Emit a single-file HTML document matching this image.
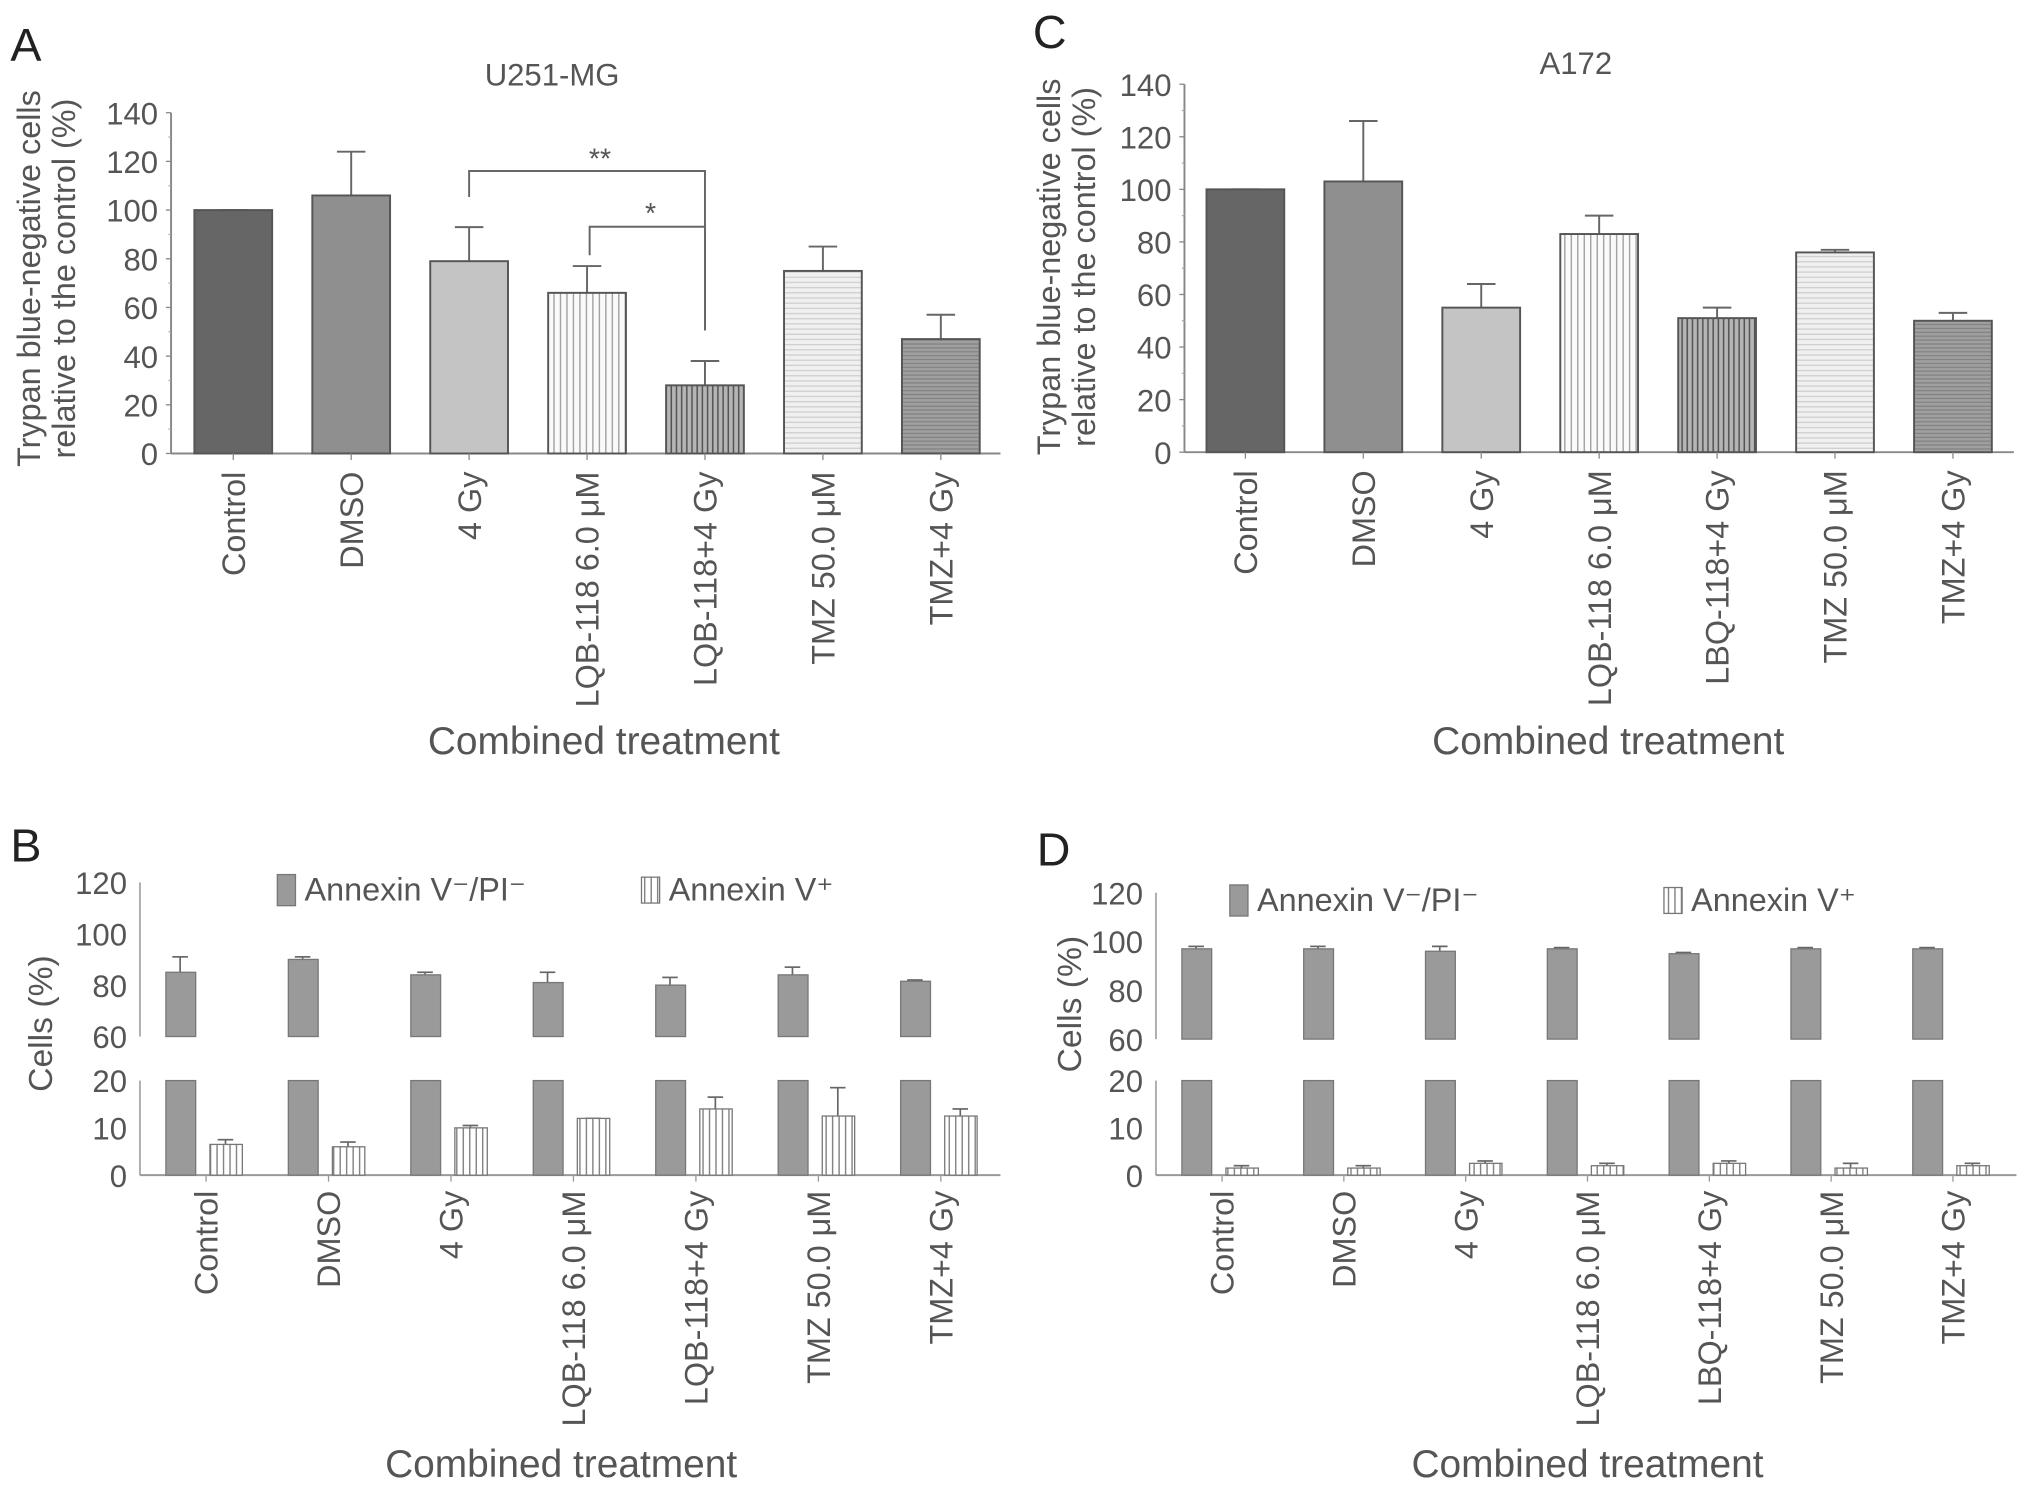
<!DOCTYPE html>
<html><head><meta charset="utf-8"><style>
html,body{margin:0;padding:0;background:#fff;}
svg{display:block;font-family:"Liberation Sans",sans-serif;}
</style></head><body>
<svg id="fig" width="2032" height="1490" viewBox="0 0 1568 1150" preserveAspectRatio="none">
<defs>
<pattern id="vLight" width="5" height="10" patternUnits="userSpaceOnUse"><rect width="5" height="10" fill="#fafafa"/><line x1="2.5" y1="0" x2="2.5" y2="10" stroke="#9a9a9a" stroke-width="1"/></pattern>
<pattern id="vDark" width="4" height="10" patternUnits="userSpaceOnUse"><rect width="4" height="10" fill="#b5b5b5"/><line x1="2" y1="0" x2="2" y2="10" stroke="#555" stroke-width="1.2"/></pattern>
<pattern id="hLight" width="10" height="4" patternUnits="userSpaceOnUse"><rect width="10" height="4" fill="#f0f0f0"/><line x1="0" y1="2" x2="10" y2="2" stroke="#cfcfcf" stroke-width="1"/></pattern>
<pattern id="hDark" width="10" height="3" patternUnits="userSpaceOnUse"><rect width="10" height="3" fill="#a0a0a0"/><line x1="0" y1="1.5" x2="10" y2="1.5" stroke="#828282" stroke-width="1"/></pattern>
<pattern id="vStripe" width="5" height="10" patternUnits="userSpaceOnUse"><rect width="5" height="10" fill="#fff"/><line x1="2.5" y1="0" x2="2.5" y2="10" stroke="#777" stroke-width="1"/></pattern>
</defs>
</svg>
<script>
const catsA = ["Control","DMSO","4 Gy","LQB-118 6.0 \u03bcM","LQB-118+4 Gy","TMZ 50.0 \u03bcM","TMZ+4 Gy"];
const catsC = ["Control","DMSO","4 Gy","LQB-118 6.0 \u03bcM","LBQ-118+4 Gy","TMZ 50.0 \u03bcM","TMZ+4 Gy"];
const valsA = [100,106,79,66,28,75,47];
const errA = [100,124,93,77,38,85,57];
const valsC = [100,103,55,83,51,76,50];
const errC = [100,126,64,90,55,77,53];
const ticksTop = [0,20,40,60,80,100,120,140];
const liveB = [85,90,84,81,80,84,81.5];
const liveBErr = [91,91,85,85,83,87,82];
const annB = [6.5,6,10,12,14,12.5,12.5];
const annBErr = [7.5,7,10.5,12,16.5,18.5,14];
const liveD = [97,97,96,97,95,97,97];
const liveDErr = [98,98,98,97.5,95.5,97.5,97.5];
const annD = [1.5,1.5,2.5,2,2.5,1.5,2];
const annDErr = [2,2,3,2.5,3,2.5,2.5];
const ticksUpper = [60,80,100,120];
const ticksLower = [0,10,20];
const fills = ["#666","#8f8f8f","#c4c4c4","url(#vLight)","url(#vDark)","url(#hLight)","url(#hDark)"];

const svg = document.getElementById('fig');
const NS = "http://www.w3.org/2000/svg";
function mk(tag, attrs, parent){const e=document.createElementNS(NS,tag);for(const k in attrs)e.setAttribute(k,attrs[k]);(parent||svg).appendChild(e);return e;}
function txt(s, attrs, parent){const e=mk('text',attrs,parent);e.textContent=s;return e;}

function panelTop(o){
  const g = mk('g',{});
  
  
  const y = v => o.y0 - v*(o.y0-o.y140)/140;
  const ya = mk('line',{x1:o.ax,y1:o.y140,x2:o.ax,y2:o.y0,stroke:'#888','stroke-width':1.5},g);
  
  
  const xa = mk('line',{x1:o.ax,y1:o.y0,x2:o.axEnd,y2:o.y0,stroke:'#888','stroke-width':1.5},g);
  
  
  ticksTop.forEach(t=>{
    const tl = txt(String(t),{x:o.ax-10,y:y(t)+9,'text-anchor':'end','font-size':24,fill:'#555'},g);
    
    
    mk('line',{x1:o.ax-4,y1:y(t),x2:o.ax,y2:y(t),stroke:'#888','stroke-width':1},g);
    if(t<140) mk('line',{x1:o.ax-2,y1:y(t+10),x2:o.ax,y2:y(t+10),stroke:'#aaa','stroke-width':1},g);
  });
  o.cats.forEach((c,i)=>{
    const cx = o.first + i*o.step;
    const ex = mk('line',{x1:cx,y1:y(o.vals[i]),x2:cx,y2:y(o.err[i]),stroke:'#666','stroke-width':1.5},g);
    
    
    mk('line',{x1:cx-11,y1:y(o.err[i]),x2:cx+11,y2:y(o.err[i]),stroke:'#666','stroke-width':1.5},g);
    const b = mk('rect',{x:cx-30,y:y(o.vals[i]),width:60,height:y(0)-y(o.vals[i]),fill:fills[i],stroke:'#555','stroke-width':1.5},g);
    
    
    mk('line',{x1:cx,y1:o.y0,x2:cx,y2:o.y0+5,stroke:'#888','stroke-width':1},g);
    const l = txt(c,{x:cx+9,y:o.y0+14,'text-anchor':'end','font-size':25,fill:'#555',transform:`rotate(-90 ${cx+9} ${o.y0+14})`},g);
    
    
  });
  return {g,y};
}

const A = panelTop({name:'panel-a-chart',ax:132,axEnd:772,y0:350,y140:87,first:180,step:91,cats:catsA,vals:valsA,err:errA});
const C = panelTop({name:'panel-c-chart',ax:914,axEnd:1554,y0:349,y140:65,first:961,step:91,cats:catsC,vals:valsC,err:errC});

const br = mk('g',{});


mk('polyline',{points:`362,152 362,132 544,132 544,255`,fill:'none',stroke:'#666','stroke-width':1.5},br);
mk('polyline',{points:`455,197 455,175 544,175 544,255`,fill:'none',stroke:'#666','stroke-width':1.5},br);
txt('**',{x:463,y:130,'text-anchor':'middle','font-size':22,fill:'#555'},br);
txt('*',{x:502,y:172,'text-anchor':'middle','font-size':22,fill:'#555'},br);

function panelBot(o){
  const g = mk('g',{});
  
  
  const yU = v => o.y60 - (v-60)*(o.y60-o.y120)/60;
  const yL = v => o.y0 - v*(o.y0-o.y20)/20;
  const a1 = mk('line',{x1:o.ax,y1:o.y120,x2:o.ax,y2:o.y60,stroke:'#999','stroke-width':1.2},g);
  
  
  const a2 = mk('line',{x1:o.ax,y1:o.y20,x2:o.ax,y2:o.y0,stroke:'#999','stroke-width':1.2},g);
  
  
  const xa = mk('line',{x1:o.ax,y1:o.y0,x2:o.axEnd,y2:o.y0,stroke:'#999','stroke-width':1.5},g);
  
  
  ticksUpper.forEach(t=>{
    const tl = txt(String(t),{x:o.ax-10,y:yU(t)+9,'text-anchor':'end','font-size':24,fill:'#555'},g);
    
    
  });
  ticksLower.forEach(t=>{
    const tl = txt(String(t),{x:o.ax-10,y:yL(t)+9,'text-anchor':'end','font-size':24,fill:'#555'},g);
    
    
  });
  o.cats.forEach((c,i)=>{
    const gx = o.gray0 + i*o.step;
    const sx = gx + 34;
    mk('line',{x1:gx+11,y1:yU(o.live[i]),x2:gx+11,y2:yU(o.liveErr[i]),stroke:'#666','stroke-width':1.3},g);
    mk('line',{x1:gx+5,y1:yU(o.liveErr[i]),x2:gx+17,y2:yU(o.liveErr[i]),stroke:'#666','stroke-width':1.3},g);
    const b1 = mk('rect',{x:gx,y:yU(o.live[i]),width:23,height:o.y60-yU(o.live[i]),fill:'#9a9a9a',stroke:'#777','stroke-width':1},g);
    
    
    const b2 = mk('rect',{x:gx,y:o.y20,width:23,height:o.y0-o.y20,fill:'#9a9a9a',stroke:'#777','stroke-width':1},g);
    
    
    mk('line',{x1:sx+12,y1:yL(o.ann[i]),x2:sx+12,y2:yL(o.annErr[i]),stroke:'#666','stroke-width':1.3},g);
    mk('line',{x1:sx+6,y1:yL(o.annErr[i]),x2:sx+18,y2:yL(o.annErr[i]),stroke:'#666','stroke-width':1.3},g);
    const b3 = mk('rect',{x:sx,y:yL(o.ann[i]),width:25,height:o.y0-yL(o.ann[i]),fill:'url(#vStripe)',stroke:'#777','stroke-width':1},g);
    
    
    const cx = gx + 31;
    mk('line',{x1:cx,y1:o.y0,x2:cx,y2:o.y0+5,stroke:'#999','stroke-width':1},g);
    const l = txt(c,{x:cx+9,y:o.y0+12,'text-anchor':'end','font-size':25,fill:'#555',transform:`rotate(-90 ${cx+9} ${o.y0+12})`},g);
    
    
  });
  const lg = mk('g',{},g);
  
  
  mk('rect',{x:o.leg1,y:o.legY,width:14,height:24,fill:'#9a9a9a',stroke:'#777'},lg);
  txt('Annexin V\u207b/PI\u207b',{x:o.leg1+21,y:o.legY+20,'font-size':25,fill:'#555'},lg);
  mk('rect',{x:o.leg2,y:o.legY+2,width:14,height:20,fill:'url(#vStripe)',stroke:'#777'},lg);
  txt('Annexin V\u207a',{x:o.leg2+21,y:o.legY+20,'font-size':25,fill:'#555'},lg);
}

panelBot({name:'panel-b-chart',ax:108,axEnd:772,y0:907,y20:834,y60:800,y120:681,gray0:128,step:94.5,cats:catsA,live:liveB,liveErr:liveBErr,ann:annB,annErr:annBErr,leg1:214,leg2:495,legY:675});
panelBot({name:'panel-d-chart',ax:892,axEnd:1556,y0:907,y20:834,y60:802,y120:689,gray0:912,step:94,cats:catsC,live:liveD,liveErr:liveDErr,ann:annD,annErr:annDErr,leg1:949,leg2:1284,legY:683});

function lab(s,attrs,name){const e=txt(s,attrs);return e;}
lab('A',{x:8,y:47,'font-size':36,fill:'#222'},'panel-label-a');
lab('C',{x:797,y:37,'font-size':36,fill:'#222'},'panel-label-c');
lab('B',{x:8,y:665,'font-size':36,fill:'#222'},'panel-label-b');
lab('D',{x:800,y:668,'font-size':36,fill:'#222'},'panel-label-d');
lab('U251-MG',{x:426,y:66,'text-anchor':'middle','font-size':24,fill:'#555'},'chart-title-a');
lab('A172',{x:1216,y:57,'text-anchor':'middle','font-size':24,fill:'#555'},'chart-title-c');
lab('Combined treatment',{x:466,y:582,'text-anchor':'middle','font-size':30,fill:'#555'},'x-axis-title-a');
lab('Combined treatment',{x:1241,y:582,'text-anchor':'middle','font-size':30,fill:'#555'},'x-axis-title-c');
lab('Combined treatment',{x:433,y:1140,'text-anchor':'middle','font-size':30,fill:'#555'},'x-axis-title-b');
lab('Combined treatment',{x:1225,y:1140,'text-anchor':'middle','font-size':30,fill:'#555'},'x-axis-title-d');
lab('Trypan blue-negative cells',{x:31,y:215,'text-anchor':'middle','font-size':25,fill:'#555',transform:'rotate(-90 31 215)'},'y-axis-title-a-line1');
lab('relative to the control (%)',{x:58,y:215,'text-anchor':'middle','font-size':25,fill:'#555',transform:'rotate(-90 58 215)'},'y-axis-title-a-line2');
lab('Trypan blue-negative cells',{x:818,y:206,'text-anchor':'middle','font-size':25,fill:'#555',transform:'rotate(-90 818 206)'},'y-axis-title-c-line1');
lab('relative to the control (%)',{x:845,y:206,'text-anchor':'middle','font-size':25,fill:'#555',transform:'rotate(-90 845 206)'},'y-axis-title-c-line2');
lab('Cells (%)',{x:40,y:790,'text-anchor':'middle','font-size':26,fill:'#555',transform:'rotate(-90 40 790)'},'y-axis-title-b');
lab('Cells (%)',{x:834,y:775,'text-anchor':'middle','font-size':26,fill:'#555',transform:'rotate(-90 834 775)'},'y-axis-title-d');
</script>
</body></html>
